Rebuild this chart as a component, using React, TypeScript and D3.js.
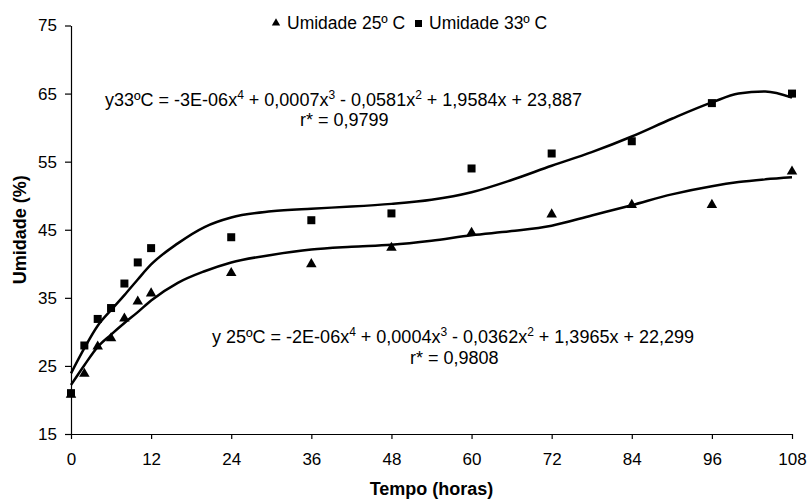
import React, { useRef, useEffect } from 'react';
import * as d3 from 'd3';

// measured points
const hours = [0, 2, 4, 6, 8, 10, 12, 24, 36, 48, 60, 72, 84, 96, 108];
const umid25 = [20.9, 24.0, 28.0, 29.2, 32.1, 34.6, 35.8, 38.8, 40.1, 42.5, 44.7, 47.4, 48.8, 48.8, 53.7];
const umid33 = [21.0, 28.0, 31.9, 33.5, 37.1, 40.2, 42.3, 43.9, 46.4, 47.4, 54.0, 56.2, 58.0, 63.6, 65.0];

// trend lines
const trendHours = [0, 2, 4, 6, 8, 10, 12, 16, 20, 24, 30, 36, 42, 48, 54, 60, 66, 72, 78, 84, 90, 96, 100, 104, 108];
const trend25 = [22.2, 25.1, 27.8, 29.6, 31.3, 32.9, 34.6, 37.2, 38.9, 40.2, 41.3, 42.1, 42.5, 42.8, 43.4, 44.2, 44.8, 45.6, 47.1, 48.6, 50.2, 51.4, 52.0, 52.4, 52.7];
const trend33 = [23.9, 27.6, 30.9, 33.2, 35.4, 37.7, 39.9, 43.0, 45.4, 46.8, 47.7, 48.1, 48.4, 48.8, 49.4, 50.5, 52.3, 54.4, 56.4, 58.7, 61.3, 63.7, 65.0, 65.3, 64.4];

const xTicks = [0, 12, 24, 36, 48, 60, 72, 84, 96, 108];
const yTicks = [15, 25, 35, 45, 55, 65, 75];

const eq33 = ["y33ºC = -3E-06x", "4", " + 0,0007x", "3", " - 0,0581x", "2", " + 1,9584x + 23,887"];
const eq25 = ["y 25ºC = -2E-06x", "4", " + 0,0004x", "3", " - 0,0362x", "2", " + 1,3965x + 22,299"];

function App() {
  const svgRef = useRef(null);

  useEffect(() => {
    document.body.style.margin = "0";
    const svg = d3.select(svgRef.current);
    svg.selectAll("*").remove();

    const width = 809;
    const height = 500;
    const font = "'Liberation Sans', Arial, sans-serif";

    const x = d3.scaleLinear().domain([0, 108]).range([71, 792]);
    const y = d3.scaleLinear().domain([15, 75]).range([434, 25.5]);

    svg.attr("width", width).attr("height", height).style("font-family", font);

    const xAxis = svg.append("g")
      .attr("transform", `translate(0, ${y(15)})`)
      .call(d3.axisBottom(x).tickValues(xTicks).tickSize(5).tickPadding(14).tickSizeOuter(0));
    xAxis.selectAll("text").style("font-size", "17px").style("font-family", font).attr("fill", "#000");

    const yAxis = svg.append("g")
      .attr("transform", `translate(${x(0)}, 0)`)
      .call(d3.axisLeft(y).tickValues(yTicks).tickSize(6).tickPadding(8).tickSizeOuter(0));
    yAxis.selectAll("text").style("font-size", "17px").style("font-family", font).attr("fill", "#000");

    svg.selectAll(".domain, .tick line").attr("stroke", "#000").attr("stroke-width", 1.2);

    svg.append("text")
      .attr("x", (x(0) + x(108)) / 2)
      .attr("y", 495)
      .attr("text-anchor", "middle")
      .style("font-size", "18px")
      .style("font-weight", "bold")
      .text("Tempo (horas)");

    svg.append("text")
      .attr("transform", `translate(26, ${(y(15) + y(75)) / 2}) rotate(-90)`)
      .attr("text-anchor", "middle")
      .style("font-size", "18px")
      .style("font-weight", "bold")
      .text("Umidade (%)");

    const line = d3.line()
      .x(d => x(d[0]))
      .y(d => y(d[1]))
      .curve(d3.curveMonotoneX);

    [trend33, trend25].forEach(t => {
      svg.append("path")
        .datum(trendHours.map((h, i) => [h, t[i]]))
        .attr("d", line)
        .attr("fill", "none")
        .attr("stroke", "#000")
        .attr("stroke-width", 2.5);
    });

    const tri = d3.symbol().type(d3.symbolTriangle).size(48);
    svg.selectAll(".tri")
      .data(hours.map((h, i) => [h, umid25[i]]))
      .enter()
      .append("path")
      .attr("d", tri)
      .attr("transform", d => `translate(${x(d[0])}, ${y(d[1]) + 1})`)
      .attr("fill", "#000");

    svg.selectAll(".sq")
      .data(hours.map((h, i) => [h, umid33[i]]))
      .enter()
      .append("rect")
      .attr("x", d => x(d[0]) - 4)
      .attr("y", d => y(d[1]) - 4)
      .attr("width", 8)
      .attr("height", 8)
      .attr("fill", "#000");

    // legend
    const legend = svg.append("g").style("font-size", "17.5px");
    legend.append("path")
      .attr("d", d3.symbol().type(d3.symbolTriangle).size(30))
      .attr("transform", "translate(276, 23)");
    legend.append("text").attr("x", 287).attr("y", 29).text("Umidade 25º C");
    legend.append("rect").attr("x", 415).attr("y", 20).attr("width", 7).attr("height", 7);
    legend.append("text").attr("x", 429).attr("y", 29).text("Umidade 33º C");

    const equation = (parts, px, py) => {
      const t = svg.append("text").attr("x", px).attr("y", py).style("font-size", "18px");
      parts.forEach((p, i) => {
        const sup = i % 2 === 1;
        t.append("tspan")
          .attr("dy", sup ? -7 : (i > 0 ? 7 : 0))
          .style("font-size", sup ? "12px" : "18px")
          .text(p);
      });
    };

    equation(eq33, 105, 106);
    svg.append("text").attr("x", 300).attr("y", 126).style("font-size", "18px").text("r* = 0,9799");

    equation(eq25, 212, 343);
    svg.append("text").attr("x", 410).attr("y", 364).style("font-size", "18px").text("r* = 0,9808");
  }, []);

  return <svg ref={svgRef}></svg>;
}

export default App;
